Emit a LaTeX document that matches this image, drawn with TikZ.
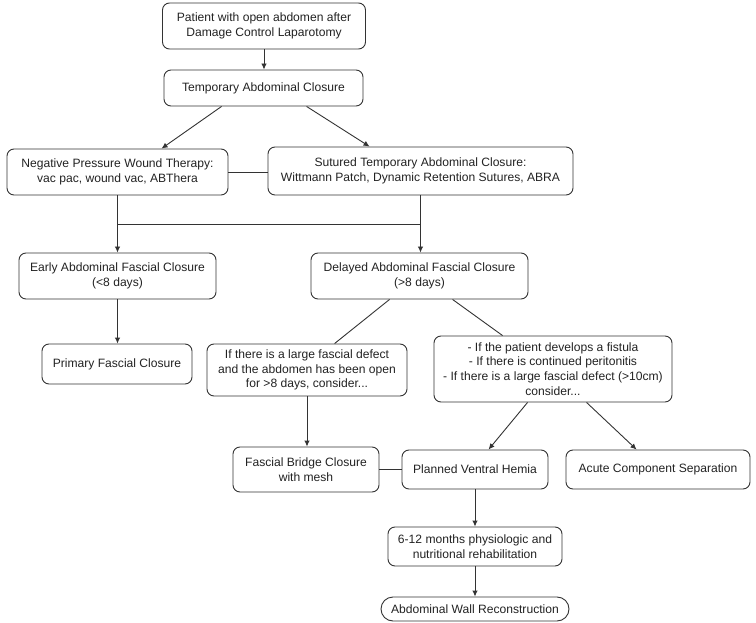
\documentclass[tikz,border=0pt]{standalone}
\usepackage{fontspec}
\setmainfont{Liberation Sans}
\usetikzlibrary{arrows.meta,calc}
\definecolor{ink}{HTML}{222222}
\definecolor{edge}{HTML}{333333}
\tikzset{
  box/.style={draw=edge, line width=0.9pt, rounded corners=7pt, align=center, inner sep=0pt,
    text=ink, font=\fontsize{12.1}{14.7}\selectfont},
  conn/.style={draw=edge, line width=0.9pt},
  arr/.style={conn, -{Latex[length=6pt,width=5.5pt]}},
}
\begin{document}
\begin{tikzpicture}[x=1pt,y=-1pt]
\useasboundingbox (0,0) rectangle (756,623);
\node[box, minimum width=203pt, minimum height=46pt] (p1) at (264,26) {Patient with open abdomen after\\Damage Control Laparotomy};
\node[box, minimum width=199pt, minimum height=36pt] (tac) at (263.5,88) {Temporary Abdominal Closure};
\node[box, minimum width=221pt, minimum height=46pt] (npwt) at (117.5,172) {Negative Pressure Wound Therapy:\\vac pac, wound vac, ABThera};
\node[box, minimum width=305pt, minimum height=48pt] (stac) at (420.5,171) {Sutured Temporary Abdominal Closure:\\Wittmann Patch, Dynamic Retention Sutures, ABRA};
\node[box, minimum width=197pt, minimum height=46pt] (early) at (117.5,276) {Early Abdominal Fascial Closure\\(<8 days)};
\node[box, minimum width=217pt, minimum height=46pt] (delayed) at (419.5,276) {Delayed Abdominal Fascial Closure\\(>8 days)};
\node[box, minimum width=150pt, minimum height=40pt] (primary) at (117,364) {Primary Fascial Closure};
\node[box, minimum width=200pt, minimum height=52pt] (large) at (307,370) {If there is a large fascial defect\\and the abdomen has been open\\for >8 days, consider...};
\node[box, minimum width=238pt, minimum height=66pt] (fistula) at (553,369) {- If the patient develops a fistula\\- If there is continued peritonitis\\- If there is a large fascial defect (>10cm)\\consider...};
\node[box, minimum width=146pt, minimum height=45pt] (bridge) at (306,469.5) {Fascial Bridge Closure\\with mesh};
\node[box, minimum width=146pt, minimum height=39pt] (planned) at (475,469.5) {Planned Ventral Hemia};
\node[box, minimum width=184pt, minimum height=39pt] (acute) at (658,469.5) {Acute Component Separation};
\node[box, minimum width=174pt, minimum height=39pt] (rehab) at (475,546.5) {6-12 months physiologic and\\nutritional rehabilitation};
\node[box, rounded corners=12pt, minimum width=188pt, minimum height=24pt] (awr) at (475,609) {Abdominal Wall Reconstruction};
\coordinate (j1) at (117.5,224);
\coordinate (j2) at (420.5,224);
% connectors
\draw[arr] (p1.south) -- (p1.south |- tac.north);
\draw[arr] ($(tac.south west)+(58,0)$) -- ($(npwt.north west)+(155,0)$);
\draw[arr] ($(tac.south west)+(143,0)$) -- ($(stac.north west)+(102,0)$);
\draw[conn] (npwt.east) -- (npwt.east -| stac.west);
\draw[arr] (npwt.south) -- (early.north);
\draw[arr] (stac.south) -- (stac.south |- delayed.north);
\draw[conn] (j1) -- (j2);
\draw[arr] (early.south) -- (early.south |- primary.north);
\draw[conn] ($(delayed.south west)+(79,0)$) -- ($(large.north west)+(128,0)$);
\draw[conn] ($(delayed.south west)+(142,0)$) -- ($(fistula.north west)+(69,0)$);
\draw[arr] (large.south) -- (large.south |- bridge.north);
\draw[arr] ($(fistula.south west)+(94,0)$) -- ($(planned.north west)+(87,0)$);
\draw[arr] ($(fistula.south west)+(153,0)$) -- ($(acute.north west)+(71,0)$);
\draw[conn] (bridge.east) -- (planned.west);
\draw[arr] (planned.south) -- (rehab.north);
\draw[arr] (rehab.south) -- (awr.north);
\end{tikzpicture}
\end{document}
